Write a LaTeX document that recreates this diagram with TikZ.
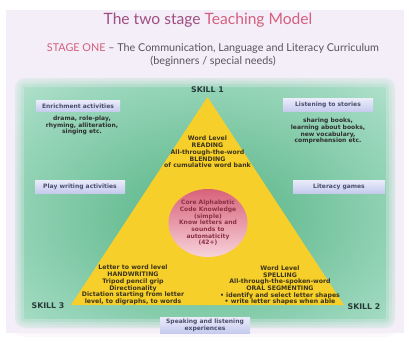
\documentclass[tikz,border=0pt]{standalone}
\usepackage{fontspec}
\setmainfont{DejaVu Sans}
\newfontfamily\headfont{Lato}
\usetikzlibrary{shapes.geometric}

\definecolor{pagelav}{HTML}{F3EEF7}
\definecolor{glowmid}{HTML}{6CBF97}
\definecolor{glowsoft}{HTML}{9FD9BF}
\definecolor{glowedge}{HTML}{DCF2EA}
\definecolor{triyellow}{HTML}{F7CF2B}
\definecolor{coretop}{HTML}{D8627A}
\definecolor{corebot}{HTML}{F7D3DA}
\definecolor{coretext}{HTML}{8A3246}
\definecolor{mauve}{HTML}{9E4E82}
\definecolor{rosy}{HTML}{D65E7E}
\definecolor{subgray}{HTML}{5A5262}
\definecolor{boxtop}{HTML}{EAECFA}
\definecolor{boxbot}{HTML}{C6CBEE}
\definecolor{boxtext}{HTML}{4A4E6C}
\definecolor{inktext}{HTML}{2E2E2E}
\definecolor{tritext}{HTML}{3B3418}

\pgfdeclareradialshading{panelglow}{\pgfpoint{0bp}{-4bp}}{%
  color(0bp)=(glowmid); color(10bp)=(glowmid); color(30bp)=(glowsoft);
  color(47bp)=(glowedge); color(70bp)=(glowedge)}

\tikzset{
  titletext/.style={font=\headfont\fontsize{15.6}{18}\selectfont},
  subtext/.style={font=\headfont\fontsize{10.8}{12.8}\selectfont, text=subgray, align=center},
  activitybox/.style={shading=axis, top color=boxtop, bottom color=boxbot,
    font=\bfseries\fontsize{6}{7}\selectfont, text=boxtext, align=center,
    minimum height=13, inner sep=1pt},
  notetext/.style={font=\bfseries\fontsize{6}{6.8}\selectfont, text=inktext, align=center},
  tritextstyle/.style={font=\bfseries\fontsize{6.2}{6.7}\selectfont, text=tritext, align=center},
  skilllabel/.style={font=\bfseries\fontsize{7.8}{9}\selectfont, text=inktext!85!teal},
}

\begin{document}
\begin{tikzpicture}[x=1pt,y=-1pt]
\useasboundingbox (0,0) rectangle (409,345);
\fill[white] (0,0) rectangle (409,345);
\fill[pagelav] (6,10) rectangle (404,333);

% green panel with soft edges
\shade[shading=panelglow, rounded corners=10pt] (15,78) rectangle (395,328);
\foreach \w/\o in {18/0.3,12/0.3,7/0.3,3/0.3}
  \draw[pagelav, line width=\w pt, opacity=\o, rounded corners=10pt] (15,78) rectangle (395,328);

% headings
\node[titletext] (title) at (208,20) {\textcolor{mauve}{The two stage} \textcolor{rosy}{Teaching Model}};
\node[subtext] (subtitle) at (213,55) {\textcolor{rosy}{STAGE ONE} – The Communication, Language and Literacy Curriculum\\(beginners / special needs)};

% the triangle of skills
\coordinate (apex) at (207.5,97);
\coordinate (left) at (71,305);
\coordinate (right) at (344,305);
\fill[triyellow] (apex) -- (left) -- (right) -- cycle;

% core knowledge disc
\node[ellipse, minimum width=79, minimum height=68, inner sep=0pt,
      shading=axis, top color=coretop, bottom color=corebot] (core) at (208,223) {};
\node[font=\bfseries\fontsize{6}{6.7}\selectfont, text=coretext, align=center] (coretxt) at (core.center)
  {Core Alphabetic\\Code Knowledge\\(simple)\\Know letters and\\sounds to\\automaticity\\(42+)};

% text inside the triangle
\node[tritextstyle] (reading) at (207.5,152) {Word Level\\READING\\All-through-the-word\\BLENDING\\of cumulative word bank};
\node[tritextstyle] (writing) at (133,285) {Letter to word level\\HANDWRITING\\Tripod pencil grip\\Directionality\\Dictation starting from letter\\level, to digraphs, to words};
\node[tritextstyle] (spelling) at (280,285.5) {Word Level\\SPELLING\\All-through-the-spoken-word\\ORAL SEGMENTING\\• identify and select letter shapes\\• write letter shapes when able};

% skill corners
\node[skilllabel] (skill1) at (207.5,89.5) {SKILL 1};
\node[skilllabel] (skill3) at (48,306) {SKILL 3};
\node[skilllabel] (skill2) at (364,306.5) {SKILL 2};

% activity boxes
\node[activitybox, minimum width=84, minimum height=11] (enrich) at (78,106) {Enrichment activities};
\node[notetext] (enrichnote) at (82,125.5) {drama, role-play,\\rhyming, alliteration,\\singing etc.};
\node[activitybox, minimum width=90] (play) at (80,186.5) {Play writing activities};
\node[activitybox, minimum width=90] (listen) at (328,105) {Listening to stories};
\node[notetext] (listennote) at (328,131) {sharing books,\\learning about books,\\new vocabulary,\\comprehension etc.};
\node[activitybox, minimum width=92] (games) at (339,186.5) {Literacy games};
\node[activitybox, minimum width=90, minimum height=16] (speak) at (205,325) {Speaking and listening\\experiences};
\end{tikzpicture}
\end{document}
